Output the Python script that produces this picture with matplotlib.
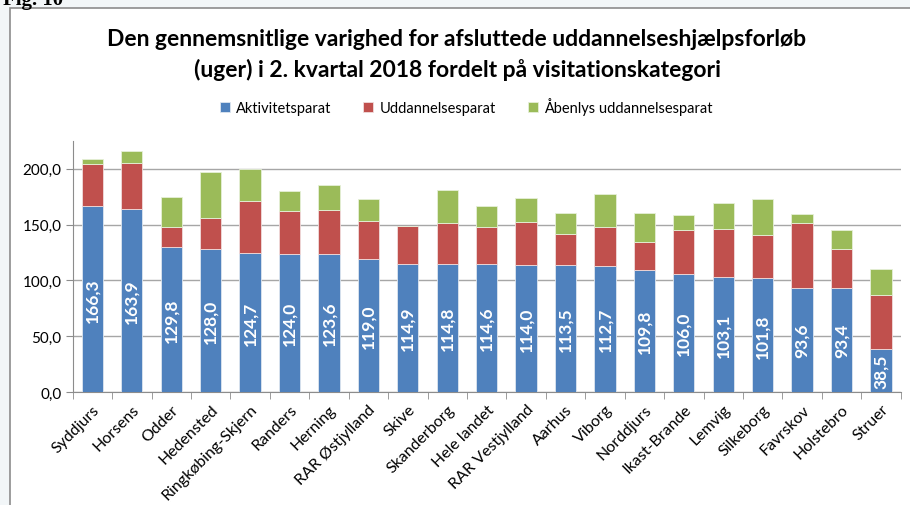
import matplotlib
matplotlib.use("Agg")
import matplotlib.pyplot as plt
from matplotlib.patches import Rectangle
from matplotlib.ticker import FixedLocator, FuncFormatter
import numpy as np

plt.rcParams['font.family'] = ['Lato', 'DejaVu Sans']

# data (uger)
kommuner = ["Syddjurs", "Horsens", "Odder", "Hedensted", "Ringkøbing-Skjern",
            "Randers", "Herning", "RAR Østjylland", "Skive", "Skanderborg",
            "Hele landet", "RAR Vestjylland", "Aarhus", "Viborg", "Norddjurs",
            "Ikast-Brande", "Lemvig", "Silkeborg", "Favrskov", "Holstebro", "Struer"]
aktivitetsparat = [166.3, 163.9, 129.8, 128.0, 124.7, 124.0, 123.6, 119.0, 114.9, 114.8,
                   114.6, 114.0, 113.5, 112.7, 109.8, 106.0, 103.1, 101.8, 93.6, 93.4, 38.5]
uddannelsesparat = [37.6, 40.9, 18.2, 28.0, 46.8, 37.7, 39.3, 34.0, 33.7, 36.8,
                    33.4, 38.5, 28.5, 34.7, 24.2, 39.3, 42.5, 38.5, 58.0, 34.4, 48.3]
aabenlys = [4.7, 11.0, 27.0, 40.7, 28.2, 18.7, 22.5, 19.7, 0.4, 29.7,
            18.4, 21.7, 18.2, 29.7, 26.2, 13.4, 23.8, 32.7, 7.7, 17.5, 23.7]

BLUE = "#4F81BD"
RED = "#C0504D"
GREEN = "#9BBB59"

fig = plt.figure(figsize=(9.1, 5.06), dpi=100)
fig.patch.set_facecolor("#f2f6f8")

# white chart frame
frame = Rectangle((9.5 / 910, -0.1), 1.0, 1 - 8.5 / 506 + 0.1, transform=fig.transFigure,
                  facecolor="white", edgecolor="#8c8c8c", linewidth=1.2, zorder=-5)
fig.patches.append(frame)

fig.text(0.003, 1 - 4.5 / 506, "Fig. 10", family="Liberation Serif", fontweight="bold",
         fontsize=15, ha="left", va="baseline")

ax = fig.add_axes([72.7 / 910, 1 - 393.3 / 506, 828 / 910, 251.6 / 506])
ax.set_zorder(2)
ax.set_facecolor("none")

x = np.arange(len(kommuner))
a = np.array(aktivitetsparat)
u = np.array(uddannelsesparat)
g = np.array(aabenlys)
w = 0.54
ax.bar(x, a, w, color=BLUE, edgecolor="#dde6f0", linewidth=0.6, label="Aktivitetsparat", zorder=3)
ax.bar(x, u, w, bottom=a, color=RED, edgecolor="#f0dcdc", linewidth=0.6, label="Uddannelsesparat", zorder=3)
ax.bar(x, g, w, bottom=a + u, color=GREEN, edgecolor="#e6f0d8", linewidth=0.6,
       label="Åbenlys uddannelsesparat", zorder=3)

for xi, v in zip(x, a):
    ax.text(xi, v / 2, f"{v:.1f}".replace(".", ","), rotation=90, ha="center", va="center",
            color="white", fontweight="bold", fontsize=12.5, zorder=4)

ax.set_xlim(-0.5, len(kommuner) - 0.5)
ax.set_ylim(0, 225)
ax.yaxis.set_major_locator(FixedLocator([0, 50, 100, 150, 200]))
ax.yaxis.set_major_formatter(FuncFormatter(lambda v, p: f"{v:.1f}".replace(".", ",")))
ax.grid(axis="y", color="#a6a6a6", linewidth=1.0, zorder=1)

ax.set_xticks(x)
ax.set_xticklabels(kommuner, rotation=45, ha="right", rotation_mode="anchor", fontsize=11.5)
ax.tick_params(axis="x", length=0, pad=7)
ax.set_xticks(np.arange(len(kommuner) + 1) - 0.5, minor=True)
ax.tick_params(axis="x", which="minor", length=5, color="#8c8c8c", direction="out")
ax.tick_params(axis="y", length=5, color="#8c8c8c", direction="out", labelsize=11, pad=3)

for s in ["top", "right"]:
    ax.spines[s].set_visible(False)
for s in ["left", "bottom"]:
    ax.spines[s].set_color("#8c8c8c")

fig.text(457 / 910, 1 - 40 / 506, "Den gennemsnitlige varighed for afsluttede uddannelseshjælpsforløb",
         ha="center", va="center", fontsize=16.5, fontweight="bold")
fig.text(457 / 910, 1 - 70 / 506, "(uger) i 2. kvartal 2018 fordelt på visitationskategori",
         ha="center", va="center", fontsize=16.5, fontweight="bold")

fig.legend(loc="center", bbox_to_anchor=(466 / 910, 1 - 107 / 506), ncol=3, frameon=False,
           fontsize=10.5, handlelength=0.7, handleheight=0.7, handletextpad=0.4, columnspacing=2.2)

fig.savefig("out.png", dpi=100, facecolor=fig.get_facecolor())
